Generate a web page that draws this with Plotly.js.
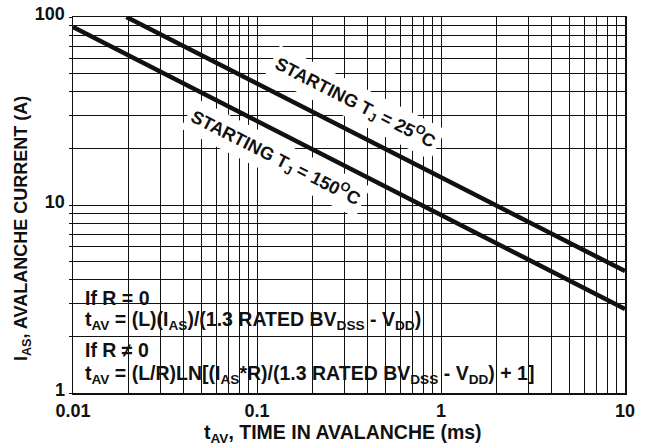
<!DOCTYPE html>
<html><head><meta charset="utf-8">
<script src="https://cdn.plot.ly/plotly-3.0.1.min.js"></script>
<style>html,body{margin:0;padding:0;background:#fff}#chart{width:651px;height:448px}</style>
</head><body><div id="chart"></div>
<script>
// Series (log-log straight lines)
const time25 = [0.0195, 0.1, 1, 10];
const current25 = [100, 44.2, 14, 4.45];
const time150 = [0.01, 0.1, 1, 10];
const current150 = [88.5, 28, 8.85, 2.8];

// Tick / grid positions and labels
const xTickVals = [0.01,0.02,0.03,0.04,0.05,0.06,0.07,0.08,0.09,
                   0.1,0.2,0.3,0.4,0.5,0.6,0.7,0.8,0.9,
                   1,2,3,4,5,6,7,8,9,10];
const xTickText = ['0.01','','','','','','','','',
                   '0.1','','','','','','','','',
                   '1','','','','','','','','','10'];
const yTickVals = [1,2,3,4,5,6,7,8,9,10,20,30,40,50,60,70,80,90,100];
const yTickText = ['1','','','','','','','','','10','','','','','','','','','100'];

// Extent of the white formula panel (data units)
const noteBoxTime = [0.01, 3.97];
const noteBoxCurrent = [1, 3.97];

const seriesNames = ['STARTING T<sub>J</sub> = 25<sup>O</sup>C', 'STARTING T<sub>J</sub> = 150<sup>O</sup>C'];
const noteLines = [
  'If R = 0',
  't<sub>AV</sub> = (L)(I<sub>AS</sub>)/(1.3 RATED BV<sub>DSS</sub> - V<sub>DD</sub>)',
  'If R \u2260 0',
  't<sub>AV</sub> = (L/R)LN[(I<sub>AS</sub>*R)/(1.3 RATED BV<sub>DSS</sub> - V<sub>DD</sub>) + 1]'
];
const xTitle = 't<sub>AV</sub>, TIME IN AVALANCHE (ms)';
const yTitle = 'I<sub>AS</sub>, AVALANCHE CURRENT (A)';

const FONT = 'Liberation Sans, Arial, Helvetica, sans-serif';
const INK = '#111111';

const traces = [
  {x: time25, y: current25, mode: 'lines', name: seriesNames[0],
   line: {color: INK, width: 4.5}, hoverinfo: 'skip'},
  {x: time150, y: current150, mode: 'lines', name: seriesNames[1],
   line: {color: INK, width: 4.5}, hoverinfo: 'skip'}
];

const axisCommon = {
  type: 'log', showgrid: true, gridcolor: INK, gridwidth: 1,
  showline: true, mirror: true, linecolor: INK, linewidth: 1.5,
  zeroline: false, tickmode: 'array', tickcolor: INK,
  tickfont: {family: FONT, size: 18, color: INK, weight: 'bold'}
};

const noteY = [0.2527, 0.1915, 0.1144, 0.0505];
const annotations = [];
noteLines.forEach((t, i) => {
  annotations.push({xref: 'paper', yref: 'paper', x: 0.018, y: noteY[i],
    xanchor: 'left', yanchor: 'middle', showarrow: false, text: t,
    font: {family: FONT, size: 19.5, color: INK, weight: 'bold'}});
});
annotations.push({xref: 'x', yref: 'y', x: Math.log10(0.341), y: Math.log10(35.3),
  text: seriesNames[0], textangle: 27, showarrow: false, bgcolor: '#ffffff', borderpad: 4,
  font: {family: FONT, size: 18, color: INK, weight: 'bold'}});
annotations.push({xref: 'x', yref: 'y', x: Math.log10(0.1253), y: Math.log10(17.8),
  text: seriesNames[1], textangle: 27, showarrow: false, bgcolor: '#ffffff', borderpad: 4,
  font: {family: FONT, size: 18, color: INK, weight: 'bold'}});
annotations.push({xref: 'paper', yref: 'paper', x: 0.49, y: -0.108, showarrow: false,
  text: xTitle, xanchor: 'center', yanchor: 'middle',
  font: {family: FONT, size: 19.5, color: INK, weight: 'bold'}});
annotations.push({xref: 'paper', yref: 'paper', x: -0.0924, y: 0.4388, showarrow: false,
  text: yTitle, textangle: -90, xanchor: 'center', yanchor: 'middle',
  font: {family: FONT, size: 18, color: INK, weight: 'bold'}});

const layout = {
  width: 651, height: 448,
  margin: {l: 73, r: 26, t: 17, b: 55},
  paper_bgcolor: '#ffffff', plot_bgcolor: '#ffffff',
  showlegend: false,
  font: {family: FONT, size: 18, color: INK, weight: 'bold'},
  xaxis: Object.assign({}, axisCommon, {range: [-2, 1], tickvals: xTickVals, ticktext: xTickText,
    ticks: 'inside', ticklen: 5, ticklabelstandoff: 1}),
  yaxis: Object.assign({}, axisCommon, {range: [0, 2], tickvals: yTickVals, ticktext: yTickText,
    ticks: 'outside', ticklen: 3, ticklabelshift: -3}),
  shapes: [{type: 'rect', xref: 'x', yref: 'y',
    x0: Math.log10(noteBoxTime[0]), x1: Math.log10(noteBoxTime[1]),
    y0: Math.log10(noteBoxCurrent[0]), y1: Math.log10(noteBoxCurrent[1]),
    fillcolor: '#ffffff', line: {width: 0}, layer: 'between'}],
  annotations: annotations
};

Plotly.newPlot('chart', traces, layout, {staticPlot: true, displayModeBar: false});
</script>
</body></html>
